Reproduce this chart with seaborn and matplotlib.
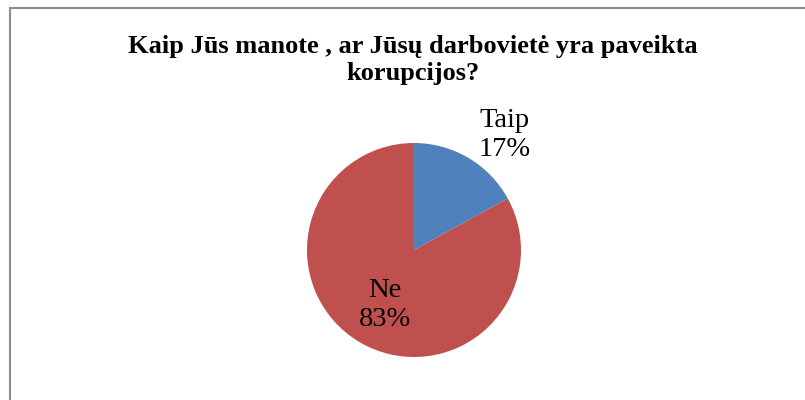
import matplotlib.pyplot as plt
import seaborn as sns
from matplotlib.patches import Rectangle

# Data
categories = ["Taip", "Ne"]
shares = [17, 83]
colors = ["#4F81BD", "#C0504D"]
title = "Kaip Jūs manote , ar Jūsų darbovietė yra paveikta\nkorupcijos?"

sns.set_theme(style="white")
plt.rcParams['font.family'] = ['Liberation Serif', 'DejaVu Serif']

fig = plt.figure(figsize=(8.05, 4.0), dpi=100)

# chart border
fig.patches.append(Rectangle((10 / 805, -0.1), 1.0, 1.08 - 8 / 400 + 0.02,
                             transform=fig.transFigure, fill=False,
                             edgecolor="#8c8c8c", linewidth=1.5))

fig.text(413 / 805, 1 - 60 / 400, title, ha="center", va="center",
         fontsize=19, fontweight="bold", linespacing=1.22, color="black")

# pie axes: center (414, 250), radius 107 px
r = 107
ax = fig.add_axes([(414 - r) / 805, (400 - 250 - r) / 400, 2 * r / 805, 2 * r / 400])
ax.pie(shares, colors=colors, startangle=90, counterclock=False, radius=1,
       wedgeprops=dict(linewidth=0))
ax.set_xlim(-1, 1)
ax.set_ylim(-1, 1)
ax.set_aspect("equal")
ax.axis("off")

# labels
label_pos = [(91 / r, 115 / r), (-29 / r, -55 / r)]
for cat, val, (lx, ly) in zip(categories, shares, label_pos):
    ax.text(lx, ly, f"{cat}\n{val}%", ha="center", va="center",
            fontsize=20.5, linespacing=1.18, color="black", clip_on=False)

fig.savefig("out.png", dpi=100)
